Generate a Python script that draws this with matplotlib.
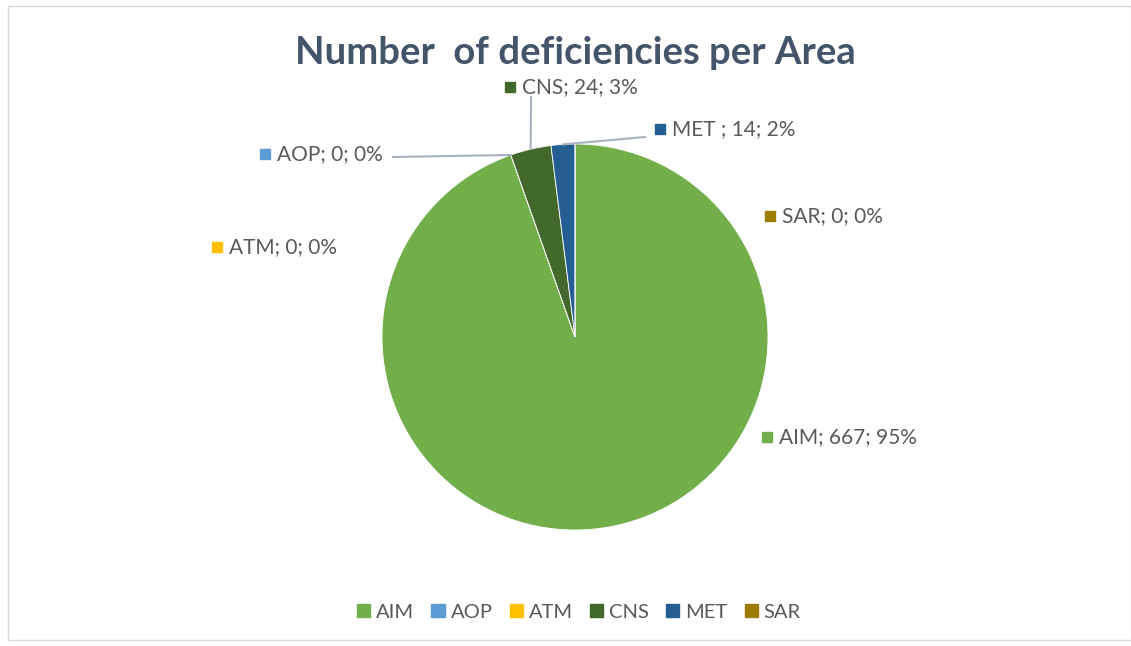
import math
import matplotlib
matplotlib.use("Agg")
import matplotlib.pyplot as plt
from matplotlib.patches import Patch, Rectangle

areas = ["AIM", "AOP", "ATM", "CNS", "MET", "SAR"]
label_names = ["AIM", "AOP", "ATM", "CNS", "MET ", "SAR"]
counts = [667, 0, 0, 24, 14, 0]
colors = ["#72AF4A", "#5B9BD5", "#FFC000", "#43682B", "#255E91", "#9E7A06"]

W, H = 1131, 646
plt.rcParams["font.family"] = ["Lato", "DejaVu Sans"]

# label placement in pixels (x of square, y from top)
label_pos = {"AIM": (767, 437), "AOP": (265, 154), "ATM": (217, 247),
             "CNS": (510, 87), "MET": (660, 129), "SAR": (770, 216)}
# start point of leader lines (pixel, from top)
leader_start = {"AOP": (393, 157), "CNS": (531, 97), "MET": (645, 137)}

fig = plt.figure(figsize=(W / 100, H / 100), dpi=100)
ax = fig.add_axes([0, 0, 1, 1])

cx, cy, r = 575, H - 337, 193
wedges, _ = ax.pie(counts, colors=colors, startangle=90, counterclock=False,
                   center=(cx, cy), radius=r,
                   wedgeprops=dict(edgecolor="white", linewidth=0.6))
ax.set_xlim(0, W)
ax.set_ylim(0, H)
ax.set_aspect("equal")
ax.axis("off")

total = sum(counts)
for i, a in enumerate(areas):
    pct = round(100 * counts[i] / total)
    x, y = label_pos[a]
    ax.add_patch(Rectangle((x - 5, H - y - 5), 10, 10, color=colors[i]))
    ax.text(x + 12, H - y, "{}; {}; {}%".format(label_names[i], counts[i], pct),
            fontsize=15, color="#595959", va="center", ha="left")
    if a in leader_start:
        w = wedges[i]
        ang = math.radians((w.theta1 + w.theta2) / 2)
        ex, ey = cx + r * math.cos(ang), cy + r * math.sin(ang)
        sx, sy = leader_start[a]
        ax.plot([sx, ex], [H - sy, ey], color="#A6B0C0", lw=1.5)

fig.text(575 / W, 1 - 53 / H, "Number  of deficiencies per Area", ha="center",
         va="center", fontsize=27.5, fontweight="bold", color="#44546A")

handles = [Patch(color=c, label=a) for a, c in zip(areas, colors)]
fig.legend(handles=handles, loc="center", bbox_to_anchor=(579 / W, 1 - 612 / H),
           ncol=6, frameon=False, fontsize=14.5, handlelength=0.65, handleheight=0.65,
           handletextpad=0.3, columnspacing=0.85, labelcolor="#595959")

# chart border
fig.patches.append(Rectangle((8 / W, 6 / H), (W - 8) / W, (H - 12) / H,
                             transform=fig.transFigure, fill=False,
                             edgecolor="#D9D9D9", lw=1))

fig.savefig("out.png", dpi=100)
